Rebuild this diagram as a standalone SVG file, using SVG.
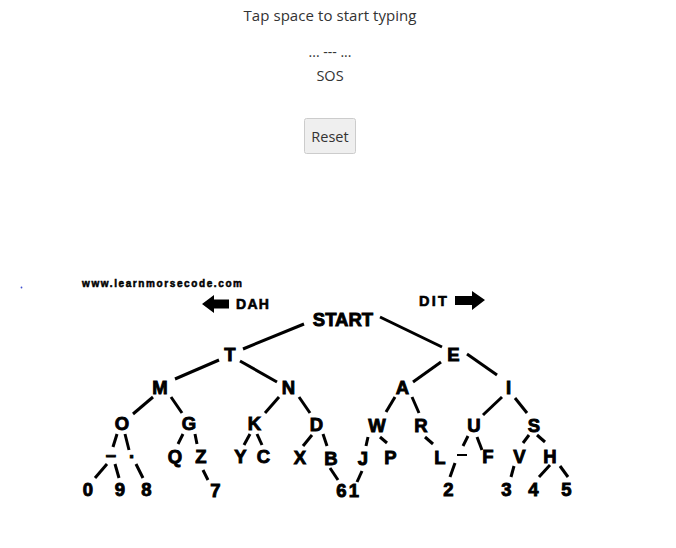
<svg xmlns="http://www.w3.org/2000/svg" width="676" height="548" viewBox="0 0 676 548">
<style>
.ui{font-family:"Open Sans","Noto Sans","Liberation Sans",sans-serif;fill:#333;text-anchor:middle}
.n{font-family:"Liberation Sans",Arial,sans-serif;font-weight:bold;font-size:18.5px;text-anchor:middle;fill:#000;stroke:#000;stroke-width:0.9}
.lbl{font-family:"Liberation Sans",Arial,sans-serif;font-weight:bold;fill:#000;stroke:#000;stroke-width:0.6}
.c line{stroke:#000;stroke-width:3}
</style>
<rect width="676" height="548" fill="#fff"/>
<text class="ui" x="330" y="21" font-size="15" textLength="173">Tap space to start typing</text>
<text class="ui" x="330" y="57" font-size="14">... --- ...</text>
<text class="ui" x="330" y="81" font-size="14.5">SOS</text>
<g id="reset">
<rect x="304.5" y="118.5" width="51" height="35" rx="2" fill="#efefef" stroke="#ccc"/>
<text class="ui" x="330" y="142" font-size="14.5">Reset</text>
</g>
<circle cx="21.5" cy="287.5" r="0.9" fill="#4050d0"/>
<text x="82" y="287" font-family="'Liberation Sans',Arial,sans-serif" font-weight="900" font-size="10" textLength="160" stroke="#000" stroke-width="0.5">www.learnmorsecode.com</text>
<g id="dah">
<polygon points="202,304 214,295 214,299.5 229,299.5 229,308.5 214,308.5 214,313"/>
<text class="lbl" x="236" y="309" font-size="14" letter-spacing="1.3">DAH</text>
</g>
<g id="dit">
<polygon points="485,300 472,291 472,296 455,296 455,305 472,305 472,310"/>
<text class="lbl" x="419" y="306" font-size="14.5" letter-spacing="2.2">DIT</text>
</g>
<g class="c" id="connectors">
<line x1="304" y1="324" x2="243" y2="349"/>
<line x1="380" y1="317" x2="442" y2="347"/>
<line x1="219" y1="360" x2="175" y2="379"/>
<line x1="240" y1="361" x2="277" y2="382"/>
<line x1="441" y1="362" x2="413" y2="382"/>
<line x1="467" y1="354" x2="497" y2="375"/>
<line x1="153" y1="397" x2="133" y2="414"/>
<line x1="171" y1="397" x2="182" y2="413"/>
<line x1="279" y1="397" x2="265" y2="413"/>
<line x1="299" y1="397" x2="310" y2="413"/>
<line x1="395" y1="397" x2="386" y2="412"/>
<line x1="412" y1="397" x2="419" y2="413"/>
<line x1="502" y1="397" x2="483" y2="415"/>
<line x1="515" y1="398" x2="527" y2="413"/>
<line x1="117" y1="434" x2="113" y2="447"/>
<line x1="125" y1="434" x2="129" y2="450"/>
<line x1="183" y1="434" x2="178" y2="444"/>
<line x1="195" y1="434" x2="197" y2="444"/>
<line x1="250" y1="434" x2="244" y2="445"/>
<line x1="257" y1="434" x2="262" y2="445"/>
<line x1="312" y1="435" x2="303" y2="446"/>
<line x1="323" y1="434" x2="327" y2="446"/>
<line x1="368" y1="437" x2="366" y2="446"/>
<line x1="380" y1="437" x2="387" y2="443"/>
<line x1="425" y1="437" x2="433" y2="444"/>
<line x1="468" y1="436" x2="463" y2="446"/>
<line x1="477" y1="437" x2="482" y2="450"/>
<line x1="529" y1="435" x2="523" y2="443"/>
<line x1="537" y1="435" x2="545" y2="442"/>
<line x1="107" y1="464" x2="95" y2="478"/>
<line x1="115" y1="464" x2="119" y2="478"/>
<line x1="136" y1="464" x2="143" y2="478"/>
<line x1="203" y1="470" x2="208" y2="480"/>
<line x1="330" y1="468" x2="338" y2="480"/>
<line x1="362" y1="471" x2="357" y2="482"/>
<line x1="455" y1="463" x2="450" y2="477"/>
<line x1="514" y1="466" x2="511" y2="477"/>
<line x1="550" y1="465" x2="539" y2="477"/>
<line x1="560" y1="466" x2="568" y2="477"/>
</g>
<g id="n-start"><text class="n" x="343" y="326" font-size="20">START</text></g>
<g id="n-t"><text class="n" x="230" y="361">T</text></g>
<g id="n-e"><text class="n" x="453.5" y="361">E</text></g>
<g id="n-m"><text class="n" x="160" y="394">M</text></g>
<g id="n-n"><text class="n" x="288.5" y="394">N</text></g>
<g id="n-a"><text class="n" x="402.5" y="394">A</text></g>
<g id="n-i"><text class="n" x="508.5" y="394">I</text></g>
<g id="n-o"><text class="n" x="122" y="430">O</text></g>
<g id="n-g"><text class="n" x="189" y="430">G</text></g>
<g id="n-k"><text class="n" x="254.5" y="430">K</text></g>
<g id="n-d"><text class="n" x="316.5" y="431">D</text></g>
<g id="n-w"><text class="n" x="377" y="432">W</text></g>
<g id="n-r"><text class="n" x="421" y="432">R</text></g>
<g id="n-u"><text class="n" x="474" y="432">U</text></g>
<g id="n-s"><text class="n" x="534" y="432">S</text></g>
<g id="n-dash1"><text class="n" x="111" y="461">–</text></g>
<g id="n-dot"><text class="n" x="131.5" y="458">.</text></g>
<g id="n-q"><text class="n" x="175" y="463">Q</text></g>
<g id="n-z"><text class="n" x="201" y="463">Z</text></g>
<g id="n-y"><text class="n" x="240.5" y="463">Y</text></g>
<g id="n-c"><text class="n" x="263.5" y="463">C</text></g>
<g id="n-x"><text class="n" x="300" y="464">X</text></g>
<g id="n-b"><text class="n" x="331" y="465">B</text></g>
<g id="n-j"><text class="n" x="363" y="465">J</text></g>
<g id="n-p"><text class="n" x="390.5" y="464">P</text></g>
<g id="n-l"><text class="n" x="440" y="464">L</text></g>
<g id="n-dash2"><rect x="457" y="454" width="10" height="2"/></g>
<g id="n-f"><text class="n" x="488" y="463">F</text></g>
<g id="n-v"><text class="n" x="519.5" y="463">V</text></g>
<g id="n-h"><text class="n" x="550" y="463">H</text></g>
<g id="n-0"><text class="n" x="88" y="496">0</text></g>
<g id="n-9"><text class="n" x="120" y="496">9</text></g>
<g id="n-8"><text class="n" x="146.5" y="496">8</text></g>
<g id="n-7"><text class="n" x="215.5" y="497">7</text></g>
<g id="n-6"><text class="n" x="341.5" y="497">6</text></g>
<g id="n-1"><text class="n" x="354" y="497">1</text></g>
<g id="n-2"><text class="n" x="448.5" y="496">2</text></g>
<g id="n-3"><text class="n" x="506.5" y="496">3</text></g>
<g id="n-4"><text class="n" x="533.5" y="496">4</text></g>
<g id="n-5"><text class="n" x="566.5" y="496">5</text></g>
</svg>
